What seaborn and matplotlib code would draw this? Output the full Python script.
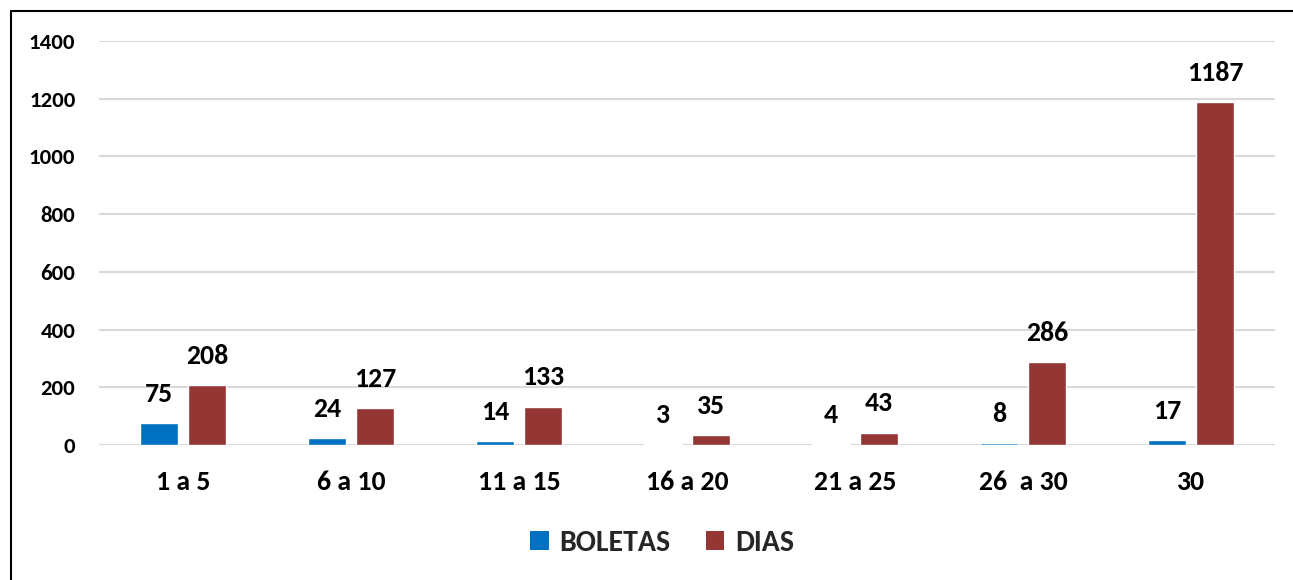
import matplotlib
matplotlib.use("Agg")
import matplotlib.pyplot as plt
import seaborn as sns
import pandas as pd
from matplotlib.lines import Line2D
from matplotlib.patches import Patch

categories = ["1 a 5", "6 a 10", "11 a 15", "16 a 20", "21 a 25", "26  a 30", "30"]
boletas = [75, 24, 14, 3, 4, 8, 17]
dias = [208, 127, 133, 35, 43, 286, 1187]
series_names = ["BOLETAS", "DIAS"]
colors = ["#0070C0", "#943634"]

sns.set_theme(style="white")
plt.rcParams["font.family"] = ["Carlito", "DejaVu Sans"]

df = pd.DataFrame({
    "cat": categories * 2,
    "serie": [series_names[0]] * len(categories) + [series_names[1]] * len(categories),
    "val": boletas + dias,
})

fig = plt.figure(figsize=(12.93, 5.8), dpi=100)
ax = fig.add_axes([99/1293, 1-445/580, (1275-99)/1293, (445-41)/580])

sns.barplot(data=df, x="cat", y="val", hue="serie", palette=colors,
            width=0.57, gap=0.21, ax=ax, legend=False, saturation=1)

ax.set_ylim(0, 1400)
ax.set_xlim(-0.5, len(categories) - 0.5)
ax.set_yticks(range(0, 1401, 200))
ax.yaxis.grid(True, color="#D9D9D9", linewidth=1.5)
ax.set_axisbelow(True)
for s in ax.spines.values():
    s.set_visible(False)
ax.set_xlabel("")
ax.set_ylabel("")
ax.tick_params(axis="y", length=0, pad=17, labelsize=16.5)
ax.tick_params(axis="x", length=0, pad=18, labelsize=20)
for t in ax.get_yticklabels() + ax.get_xticklabels():
    t.set_fontweight("bold")
    t.set_color("black")

for cont in ax.containers:
    for bar in cont:
        h = bar.get_height()
        ax.annotate(f"{int(round(h))}", (bar.get_x() + bar.get_width()/2, h),
                    xytext=(0, 21), textcoords="offset points",
                    ha="center", va="center", fontsize=20, fontweight="bold", color="black")

handles = [Patch(facecolor=c, edgecolor="none") for c in colors]
fig.legend(handles, series_names, loc="center", bbox_to_anchor=(662/1293, 1-543/580),
           ncol=2, frameon=False, prop={"size": 21.5, "weight": "bold"},
           handlelength=0.62, handleheight=0.62, handletextpad=0.35, columnspacing=1.2)

fig.add_artist(Line2D([10.5/1293, 10.5/1293], [0, 1-11/580], color="black", linewidth=1.5, transform=fig.transFigure))
fig.add_artist(Line2D([10.5/1293, 1], [1-11/580, 1-11/580], color="black", linewidth=1.5, transform=fig.transFigure))

fig.savefig("out.png", dpi=100)
